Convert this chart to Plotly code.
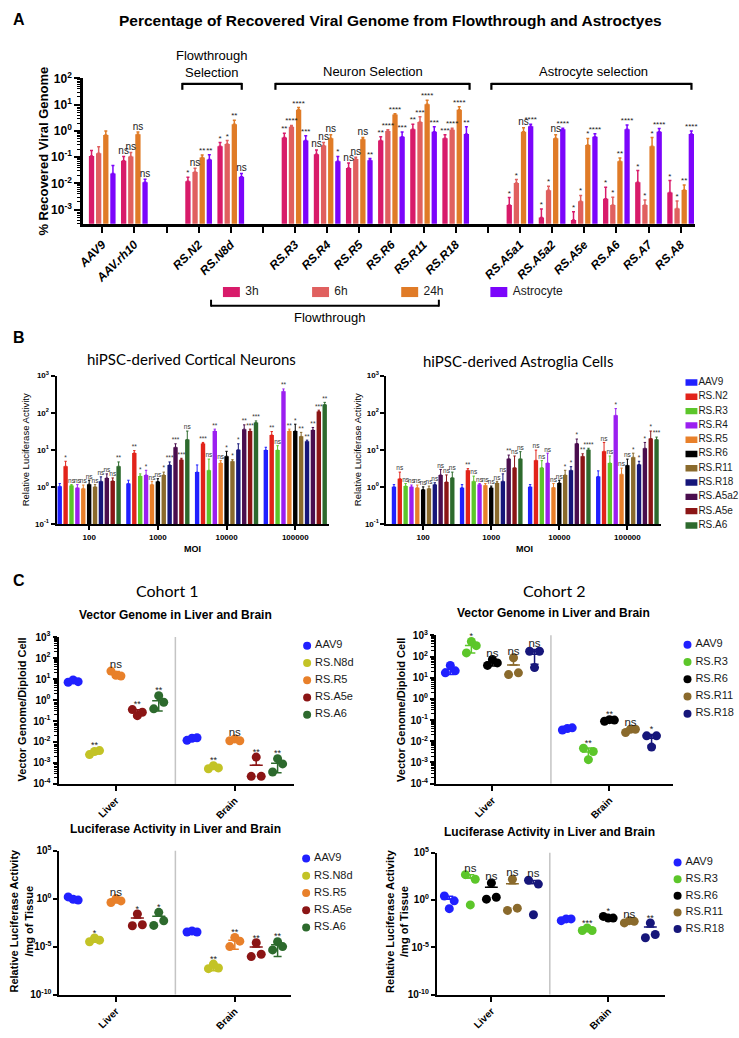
import numpy as np
import plotly.graph_objects as go

W, H = 739, 1038
def fx(p): return p / W
def fy(p): return 1 - p / H

ARIAL = "Liberation Sans, Arial, sans-serif"
CAL = "Lato, Carlito, sans-serif"

# ================= Panel A data =================
a_labels = ["AAV9", "AAV.rh10", "RS.N2", "RS.N8d", "RS.R3", "RS.R4", "RS.R5", "RS.R6",
            "RS.R11", "RS.R18", "RS.A5a1", "RS.A5a2", "RS.A5e", "RS.A6", "RS.A7", "RS.A8"]
a_slots = [0, 1, 3, 4, 6, 7, 8, 9, 10, 11, 13, 14, 15, 16, 17, 18]
a_series = ["3h", "6h", "24h", "Astrocyte"]
a_colors = ["#D81B6A", "#E0605F", "#E07B27", "#7B05FB"]
a_3h = [0.11, 0.074, 0.012, 0.26, 0.56, 0.13, 0.039, 0.43, 1.15, 0.53, 0.0015, 0.0005, 0.0004, 0.0026, 0.011, 0.0045]
a_3h_err = [0.07, 0.033, 0.0054, 0.10, 0.25, 0.06, 0.021, 0.17, 0.67, 0.18, 0.0014, 0.00057, 0.00043, 0.0046, 0.020, 0.0084]
a_6h = [0.14, 0.107, 0.027, 0.32, 1.45, 0.28, 0.085, 1.0, 2.2, 1.1, 0.0105, 0.0055, 0.0021, 0.0015, 0.0015, 0.0011]
a_6h_err = [0.11, 0.044, 0.011, 0.11, 0.17, 0.08, 0.015, 0.12, 1.27, 0.16, 0.0036, 0.0024, 0.0014, 0.0015, 0.00084, 0.00104]
a_24h = [0.70, 0.75, 0.098, 1.8, 6.5, 0.53, 0.48, 4.2, 10.4, 6.5, 0.94, 0.53, 0.29, 0.07, 0.26, 0.0056]
a_24h_err = [0.30, 0.16, 0.022, 0.77, 1.26, 0.18, 0.08, 0.37, 4.4, 1.8, 0.38, 0.18, 0.23, 0.023, 0.30, 0.0031]
a_ast = [0.024, 0.011, 0.081, 0.018, 0.43, 0.07, 0.076, 0.6, 0.94, 0.77, 1.5, 1.15, 0.6, 1.15, 0.94, 0.77]
a_ast_err = [0.024, 0.0035, 0.042, 0.006, 0.22, 0.037, 0.013, 0.31, 0.51, 0.68, 0.32, 0.11, 0.18, 0.55, 0.29, 0.23]
a_3h_sig = ["", "ns", "*", "*", "**", "ns", "ns", "**", "**", "***", "*", "*", "*", "*", "*", "*"]
a_6h_sig = ["", "ns", "ns", "*", "****", "ns", "ns", "****", "***", "****", "*", "*", "*", "*", "*", "*"]
a_24h_sig = ["", "ns", "**", "**", "****", "ns", "ns", "****", "****", "****", "ns", "ns", "*", "**", "*", "**"]
a_ast_sig = ["", "ns", "**", "ns", "***", "*", "**", "***", "***", "**", "****", "****", "****", "****", "****", "****"]
a_exps = [-3, -2, -1, 0, 1, 2]

# ================= Panel B data =================
b_moi = ["100", "1000", "10000", "100000"]
b_series = ["AAV9", "RS.N2", "RS.R3", "RS.R4", "RS.R5", "RS.R6", "RS.R11", "RS.R18", "RS.A5a2", "RS.A5e", "RS.A6"]
b_colors = ["#2020FF", "#E2231A", "#5CC62A", "#9B1FF0", "#E8802A", "#000000", "#8A6A2C", "#16167A", "#4A0E4E", "#8B1515", "#2D6A2D"]
# Cortical neurons: values and upper error bounds per series over MOI
bn_val = [[1.04, 1.23, 2.5, 9.8], [3.6, 8.2, 14.8, 25], [1.08, 1.96, 2.8, 9.8], [0.94, 2.1, 32, 380],
          [0.91, 1.15, 4.4, 32], [1.18, 1.4, 6.7, 32], [1.0, 2.1, 4.9, 23], [1.42, 3.9, 10, 17],
          [1.74, 11.7, 36, 34], [1.45, 5.4, 32, 107], [3.6, 19, 54, 166]]
bn_top = [[1.23, 1.51, 3.9, 11.7], [4.9, 9.5, 15.8, 31], [1.15, 2.24, 5.6, 12.9], [1.15, 2.8, 36, 437],
          [1.12, 1.41, 5.1, 36], [1.51, 1.66, 9.1, 49], [1.15, 2.5, 5.4, 29.5], [1.86, 4.7, 14.5, 18.2],
          [2.24, 14.5, 47, 40], [1.74, 5.9, 36, 117], [4.7, 32, 60, 190]]
bn_sig = [["", "", "", ""], ["*", "**", "***", "**"], ["ns", "*", "ns", "ns"], ["ns", "*", "**", "**"],
          ["ns", "ns", "ns", "**"], ["ns", "ns", "*", "*"], ["ns", "*", "*", "**"], ["ns", "***", "*", "**"],
          ["ns", "***", "**", "**"], ["ns", "***", "***", "***"], ["**", "ns", "***", "**"]]
# Astroglia cells
ba_val = [[1.0, 0.95, 1.0, 1.9], [1.66, 2.8, 5.2, 9.1], [1.05, 1.42, 3.3, 4.4], [1.0, 1.15, 4.4, 85],
          [0.95, 1.1, 0.96, 2.2], [0.85, 0.95, 1.28, 3.8], [0.9, 1.28, 2.1, 6.3], [1.15, 1.42, 2.8, 4.0],
          [2.1, 5.7, 14.8, 11], [1.36, 3.3, 6.7, 20], [1.77, 5.7, 10, 19]]
ba_top = [[1.15, 1.15, 1.15, 2.7], [2.5, 3.1, 9.8, 15.8], [1.23, 1.95, 5.1, 6.8], [1.12, 1.23, 8.1, 129],
          [1.12, 1.23, 1.23, 3.2], [1.0, 1.05, 1.51, 5.6], [1.05, 1.41, 2.8, 8.1], [1.29, 2.24, 3.5, 4.9],
          [2.95, 7.2, 19.5, 15.8], [2.1, 6.8, 7.8, 32], [2.5, 8.9, 11, 22]]
ba_sig = [["", "", "", ""], ["ns", "**", "ns", "ns"], ["ns", "ns", "ns", "ns"], ["ns", "ns", "ns", "*"],
          ["ns", "ns", "ns", "ns"], ["ns", "ns", "ns", "ns"], ["ns", "ns", "*", "*"], ["ns", "ns", "*", "*"],
          ["ns", "**", "*", "*"], ["ns", "ns", "**", "*"], ["ns", "ns", "****", "***"]]
b_exps = [-1, 0, 1, 2, 3]

# ================= Panel C data =================
tissues = ["Liver", "Brain"]
c1_strains = ["AAV9", "RS.N8d", "RS.R5", "RS.A5e", "RS.A6"]
c1_colors = ["#2020FF", "#C3C326", "#E8802A", "#8B1515", "#2D6A2D"]
c2_strains = ["AAV9", "RS.R3", "RS.R6", "RS.R11", "RS.R18"]
c2_colors = ["#2020FF", "#5CC62A", "#000000", "#8A6A2C", "#16167A"]
# vector genome / diploid cell, three animals each
c1_vg_liver = [[7.0, 9.0, 7.5], [0.0025, 0.0035, 0.0039], [24, 15, 14], [0.35, 0.18, 0.26], [0.38, 1.6, 0.78]]
c1_vg_brain = [[0.012, 0.015, 0.016], [0.00053, 0.00074, 0.00058], [0.0115, 0.014, 0.0115],
               [0.00023, 0.0019, 0.00023], [0.00037, 0.0016, 0.0009]]
c1_vg_sig = [["", "**", "ns", "**", "**"], ["", "**", "ns", "**", "**"]]
c2_vg_liver = [[17, 38, 21], [148, 510, 325], [38, 72, 50], [14, 87, 17], [178, 30, 178]]
c2_vg_brain = [[0.034, 0.04, 0.043], [0.0047, 0.00135, 0.0033], [0.088, 0.105, 0.1],
               [0.026, 0.037, 0.037], [0.018, 0.0053, 0.018]]
c2_vg_sig = [["", "*", "ns", "ns", "ns"], ["", "**", "**", "ns", "*"]]
# relative luciferase activity / mg tissue
c1_luc_liver = [[1.5, 0.87, 0.7], [3.2e-5, 8e-5, 4.7e-5], [0.39, 1.0, 0.58], [0.0015, 0.025, 0.0019], [0.0016, 0.037, 0.0049]]
c1_luc_brain = [[3.3e-4, 4.2e-4, 3.3e-4], [5e-8, 1.5e-7, 5.9e-8], [1e-5, 8.9e-5, 3.7e-5],
                [9e-7, 2.5e-5, 1.6e-6], [4.5e-6, 3.2e-5, 1e-5]]
c1_luc_sig = [["", "*", "ns", "*", "*"], ["", "**", "**", "**", "**"]]
c2_luc_liver = [[2.6, 0.12, 0.8], [470, 0.3, 155], [1.2, 63, 1.9], [0.078, 155, 0.135], [120, 0.027, 47]]
c2_luc_brain = [[0.0065, 0.0098, 0.0098], [5.9e-4, 1.1e-3, 5.9e-4], [0.018, 0.012, 0.012],
                [0.0037, 0.0065, 0.0055], [1e-4, 0.0037, 2.2e-4]]
c2_luc_sig = [["", "ns", "ns", "ns", "ns"], ["", "***", "*", "ns", "**"]]

fig = go.Figure()

def sup_labels(exps):
    return ["10<sup>%s</sup>" % (str(e) if e >= 0 else "-" + str(-e)) for e in exps]

def sig_sizes(sigs, ns, star):
    return [ns if s == "ns" else star for s in sigs]

# ---------- Panel A traces ----------
A_STEP, A_BW = 0.222, 0.165
a_vals = [a_3h, a_6h, a_24h, a_ast]
a_errs = [a_3h_err, a_6h_err, a_24h_err, a_ast_err]
a_sigs = [a_3h_sig, a_6h_sig, a_24h_sig, a_ast_sig]
for j, name in enumerate(a_series):
    xs = [s + (j - 1.5) * A_STEP for s in a_slots]
    fig.add_trace(go.Bar(x=xs, y=a_vals[j], width=A_BW, name=name, showlegend=False,
                         marker=dict(color=a_colors[j], line_width=0),
                         error_y=dict(type="data", symmetric=False, array=a_errs[j],
                                      arrayminus=[0] * len(xs), color=a_colors[j], thickness=1.5, width=1.5),
                         xaxis="x", yaxis="y"))
    tops = [v + e for v, e in zip(a_vals[j], a_errs[j])]
    fig.add_trace(go.Scatter(x=xs, y=tops, mode="text", text=a_sigs[j], textposition="top center",
                             textfont=dict(family=ARIAL, color="#1a1a1a", size=sig_sizes(a_sigs[j], 10, 8)),
                             showlegend=False, hoverinfo="skip", cliponaxis=False, xaxis="x", yaxis="y"))

# A legend (custom row)
fig.add_trace(go.Bar(y=[0] * 4, x=[0.19] * 4, base=[i + 0.2 for i in range(4)], orientation="h", width=1.0,
                     marker=dict(color=a_colors, line_width=0), showlegend=False, hoverinfo="skip",
                     xaxis="x5", yaxis="y5"))
fig.add_trace(go.Scatter(x=[i + 0.45 for i in range(4)], y=[0] * 4, mode="text", text=a_series,
                         textposition="middle right", textfont=dict(family=ARIAL, size=12, color="#1a1a1a"),
                         showlegend=False, hoverinfo="skip", cliponaxis=False, xaxis="x5", yaxis="y5"))

# ---------- Panel B traces ----------
B_STEP, B_BW = 0.0857, 0.064
for panel, (vals, tops_, sigs, xa, ya) in enumerate([(bn_val, bn_top, bn_sig, "x2", "y2"),
                                                    (ba_val, ba_top, ba_sig, "x3", "y3")]):
    for j, name in enumerate(b_series):
        xs = [i + (j - 5) * B_STEP for i in range(len(b_moi))]
        err = [t - v for t, v in zip(tops_[j], vals[j])]
        fig.add_trace(go.Bar(x=xs, y=vals[j], width=B_BW, showlegend=False, name=name,
                             marker=dict(color=b_colors[j], line_width=0),
                             error_y=dict(type="data", symmetric=False, array=err, arrayminus=[0] * 4,
                                          color=b_colors[j], thickness=1, width=1.2),
                             xaxis=xa, yaxis=ya))
        fig.add_trace(go.Scatter(x=xs, y=tops_[j], mode="text", text=sigs[j], textposition="top center",
                                 textfont=dict(family=ARIAL, color="#333", size=sig_sizes(sigs[j], 6.5, 6.5)),
                                 showlegend=False, hoverinfo="skip", cliponaxis=False, xaxis=xa, yaxis=ya))

# B legend (custom column)
nb = len(b_series)
fig.add_trace(go.Bar(y=list(range(nb)), x=[12] * nb, base=[5] * nb, orientation="h", width=0.45,
                     marker=dict(color=b_colors, line_width=0), showlegend=False, hoverinfo="skip",
                     xaxis="x4", yaxis="y4"))
fig.add_trace(go.Scatter(x=[18] * nb, y=list(range(nb)), mode="text", text=b_series,
                         textposition="middle right", textfont=dict(family=ARIAL, size=10, color="#1a1a1a"),
                         showlegend=False, hoverinfo="skip", cliponaxis=False, xaxis="x4", yaxis="y4"))

# ---------- Panel C traces ----------
C_DX, C_JIT, C_HALF = 0.18, [-0.042, 0.0, 0.042], 0.055
def add_scatter_panel(liver, brain, sigs, strains, colors, xa, ya, ns_size=11.5, star_size=9):
    for j, name in enumerate(strains):
        px, py, lx, ly, mx, mm, sdp, sdm, tx, ty, tt = [], [], [], [], [], [], [], [], [], [], []
        for g, data in enumerate([liver, brain]):
            reps = data[j]
            c = g + (j - 2) * C_DX
            for k, v in enumerate(reps):
                px.append(c + C_JIT[k]); py.append(v)
            m = float(np.mean(reps)); sd = float(np.std(reps, ddof=1))
            lx += [c - C_HALF, c + C_HALF, None]; ly += [m, m, None]
            mx.append(c); mm.append(m); sdp.append(sd); sdm.append(sd if m - sd > 0 else 0)
            tx.append(c); ty.append(max(max(reps), m + sd)); tt.append(sigs[g][j])
        fig.add_trace(go.Scatter(x=lx, y=ly, mode="lines", line=dict(color=colors[j], width=1.5),
                                 showlegend=False, hoverinfo="skip", xaxis=xa, yaxis=ya))
        fig.add_trace(go.Scatter(x=mx, y=mm, mode="markers", marker=dict(size=1, color="rgba(0,0,0,0)"),
                                 error_y=dict(type="data", symmetric=False, array=sdp, arrayminus=sdm,
                                              color=colors[j], thickness=1.5, width=4),
                                 showlegend=False, hoverinfo="skip", xaxis=xa, yaxis=ya))
        fig.add_trace(go.Scatter(x=px, y=py, mode="markers", name=name,
                                 marker=dict(size=9, color=colors[j]), showlegend=False, xaxis=xa, yaxis=ya))
        fig.add_trace(go.Scatter(x=tx, y=ty, mode="text", text=tt, textposition="top center",
                                 textfont=dict(family=ARIAL, color="#1a1a1a", size=sig_sizes(tt, ns_size, star_size)),
                                 showlegend=False, hoverinfo="skip", cliponaxis=False, xaxis=xa, yaxis=ya))

add_scatter_panel(c1_vg_liver, c1_vg_brain, c1_vg_sig, c1_strains, c1_colors, "x6", "y6")
add_scatter_panel(c2_vg_liver, c2_vg_brain, c2_vg_sig, c2_strains, c2_colors, "x7", "y7")
add_scatter_panel(c1_luc_liver, c1_luc_brain, c1_luc_sig, c1_strains, c1_colors, "x8", "y8")
add_scatter_panel(c2_luc_liver, c2_luc_brain, c2_luc_sig, c2_strains, c2_colors, "x9", "y9")

# C legends
for strains, colors, xa, ya in [(c1_strains, c1_colors, "x10", "y10"), (c2_strains, c2_colors, "x11", "y11"),
                                (c1_strains, c1_colors, "x12", "y12"), (c2_strains, c2_colors, "x13", "y13")]:
    n = len(strains)
    fig.add_trace(go.Scatter(x=[8] * n, y=list(range(n)), mode="markers", marker=dict(size=8, color=colors),
                             showlegend=False, hoverinfo="skip", xaxis=xa, yaxis=ya))
    fig.add_trace(go.Scatter(x=[16] * n, y=list(range(n)), mode="text", text=strains, textposition="middle right",
                             textfont=dict(family=ARIAL, size=11, color="#1a1a1a"),
                             showlegend=False, hoverinfo="skip", cliponaxis=False, xaxis=xa, yaxis=ya))

# ================= Layout =================
def xax(dom, rng, tickvals, ticktext, **kw):
    d = dict(domain=[fx(dom[0]), fx(dom[1])], range=rng, tickvals=tickvals, ticktext=ticktext,
             showline=True, linecolor="black", showgrid=False, zeroline=False, ticks="outside",
             tickcolor="black", fixedrange=True)
    d.update(kw)
    return d

def yax(dom, rng, exps, **kw):
    d = dict(type="log", domain=[fy(dom[1]), fy(dom[0])], range=rng, tickvals=[10.0 ** e for e in exps],
             ticktext=sup_labels(exps), showline=True, linecolor="black", showgrid=False, zeroline=False,
             ticks="outside", tickcolor="black", fixedrange=True)
    d.update(kw)
    return d

def hidden(dom_x, dom_y, rx, ry):
    return (dict(domain=[fx(dom_x[0]), fx(dom_x[1])], range=rx, visible=False, fixedrange=True),
            dict(domain=[fy(dom_y[1]), fy(dom_y[0])], range=ry, visible=False, fixedrange=True))

bold = dict(family=ARIAL, color="black", weight="bold")
a_ticktext = [""] * 19
for lab, s in zip(a_labels, a_slots):
    a_ticktext[s] = lab

layout = dict(
    width=W, height=H, margin=dict(l=0, r=0, t=0, b=0), paper_bgcolor="white", plot_bgcolor="white",
    barmode="overlay", showlegend=False, font=dict(family=ARIAL, color="black"),
    xaxis=xax((77, 695), [-0.59, 18.46], list(range(19)), a_ticktext, anchor="y", linewidth=3,
              ticklen=6, tickwidth=2, tickangle=-45,
              tickfont=dict(family=ARIAL, size=12, color="black", weight="bold", style="italic")),
    yaxis=yax((70.5, 218), [-3.54, 2.0], a_exps, anchor="x", linewidth=3, ticklen=6, tickwidth=2,
              tickfont=dict(size=12, **bold),
              minor=dict(ticks="outside", ticklen=3, tickwidth=1.2, tickcolor="black", dtick="D1", showgrid=False)),
    xaxis2=xax((50, 325), [-0.475, 3.49], [0, 1, 2, 3], b_moi, anchor="y2", linewidth=2, ticklen=4, tickwidth=2,
               tickfont=dict(size=8, **bold)),
    yaxis2=yax((372, 522.5), [-1, 3], b_exps, anchor="x2", linewidth=2, ticklen=4, tickwidth=1.5,
               tickfont=dict(size=8, **bold)),
    xaxis3=xax((383, 660), [-0.54, 3.49], [0, 1, 2, 3], b_moi, anchor="y3", linewidth=2, ticklen=4, tickwidth=2,
               tickfont=dict(size=8, **bold)),
    yaxis3=yax((372, 522.5), [-1, 3], b_exps, anchor="x3", linewidth=2, ticklen=4, tickwidth=1.5,
               tickfont=dict(size=8, **bold)),
    xaxis6=xax((52, 290), [-0.483, 1.5], [0, 1], tissues, anchor="y6", linewidth=2, ticklen=5, tickwidth=1.5,
               tickangle=-45, tickfont=dict(size=10, **bold)),
    yaxis6=yax((637.3, 786.3), [-4, 3], list(range(-4, 4)), anchor="x6", linewidth=2, ticklen=4, tickwidth=1.5,
               tickfont=dict(size=10, **bold),
               minor=dict(ticks="outside", ticklen=3, tickwidth=1, tickcolor="black", dtick="D1", showgrid=False)),
    xaxis7=xax((433, 672), [-0.483, 1.54], [0, 1], tissues, anchor="y7", linewidth=2, ticklen=5, tickwidth=1.5,
               tickangle=-45, tickfont=dict(size=10, **bold)),
    yaxis7=yax((635.5, 786), [-4, 3], list(range(-4, 4)), anchor="x7", linewidth=2, ticklen=4, tickwidth=1.5,
               tickfont=dict(size=10, **bold),
               minor=dict(ticks="outside", ticklen=3, tickwidth=1, tickcolor="black", dtick="D1", showgrid=False)),
    xaxis8=xax((53, 287), [-0.475, 1.475], [0, 1], tissues, anchor="y8", linewidth=2, ticklen=5, tickwidth=1.5,
               tickangle=-45, tickfont=dict(size=10, **bold)),
    yaxis8=yax((854, 1000), [-10, 5], [-10, -5, 0, 5], anchor="x8", linewidth=2, ticklen=4, tickwidth=1.5,
               tickfont=dict(size=10, **bold)),
    xaxis9=xax((434, 664), [-0.466, 1.483], [0, 1], tissues, anchor="y9", linewidth=2, ticklen=5, tickwidth=1.5,
               tickangle=-45, tickfont=dict(size=10, **bold)),
    yaxis9=yax((856, 1000), [-10, 5], [-10, -5, 0, 5], anchor="x9", linewidth=2, ticklen=4, tickwidth=1.5,
               tickfont=dict(size=10, **bold)),
)
layout["xaxis5"], layout["yaxis5"] = hidden((200, 560), (282, 292.5), [0, 4], [-0.5, 0.5])
layout["xaxis4"], layout["yaxis4"] = hidden((680, 739), (371.75, 531.25), [0, 59], [10.5, -0.5])
def leg_axes(x0, first_y, spacing, n=5):
    x1 = min(x0 + 52, W)
    return hidden((x0 - 8, x1), (first_y - spacing / 2, first_y - spacing / 2 + n * spacing),
                  [0, x1 - x0 + 8], [n - 0.5, -0.5])
layout["xaxis10"], layout["yaxis10"] = leg_axes(303, 646, 17.5)
layout["xaxis11"], layout["yaxis11"] = leg_axes(687, 645, 17.5)
layout["xaxis12"], layout["yaxis12"] = leg_axes(302, 862, 17.5)
layout["xaxis13"], layout["yaxis13"] = leg_axes(677, 866, 16.9)
for k in ["yaxis4", "yaxis5"] + ["yaxis%d" % i for i in range(10, 14)]:
    layout[k]["anchor"] = "x" + k[5:]
for k in ["xaxis4", "xaxis5"] + ["xaxis%d" % i for i in range(10, 14)]:
    layout[k]["anchor"] = "y" + k[5:]
fig.update_layout(**layout)

# ---------- annotations ----------
def ann(text, x, y, size, bold_=False, angle=0, family=ARIAL, xanchor="center"):
    fig.add_annotation(text=text, x=fx(x), y=fy(y), xref="paper", yref="paper", showarrow=False,
                       textangle=angle, xanchor=xanchor, yanchor="middle",
                       font=dict(family=family, size=size, color="black", weight="bold" if bold_ else "normal"))

ann("A", 4, 11, 16, True, xanchor="left")
ann("Percentage of Recovered Viral Genome from Flowthrough and Astroctyes", 387, 12, 15.5, True)
ann("% Recovered Viral Genome", 37, 144, 13, True, angle=-90)
ann("Flowthrough<br>Selection", 207, 56, 13)
ann("Neuron Selection", 369, 63, 13)
ann("Astrocyte selection", 592, 63, 13)
ann("Flowthrough", 326, 313, 13)
ann("B", 4, 333, 16, True, xanchor="left")
ann("hiPSC-derived Cortical Neurons", 186, 355, 15, family=CAL)
ann("hiPSC-derived Astroglia Cells", 516, 357, 15, family=CAL)
ann("Relative Luciferase Activity", 19, 447, 9.5, angle=-90)
ann("Relative Luciferase Activity", 354, 447, 9.5, angle=-90)
ann("MOI", 187, 548, 9, True)
ann("MOI", 522, 548, 9, True)
ann("C", 4, 580, 16, True, xanchor="left")
ann("Cohort 1", 162, 590, 16, family=CAL)
ann("Cohort 2", 553, 590, 16, family=CAL)
ann("Vector Genome in Liver and Brain", 170, 615, 12, True)
ann("Vector Genome in Liver and Brain", 552, 613, 12, True)
ann("Vector Genome/Diploid Cell", 15, 711, 11, True, angle=-90)
ann("Vector Genome/Diploid Cell", 397, 711, 11, True, angle=-90)
ann("Luciferase Activity in Liver and Brain", 170, 832, 12, True)
ann("Luciferase Activity in Liver and Brain", 548, 835, 12, True)
ann("Relative Luciferase Activity<br>/mg of Tissue", 14, 925, 11, True, angle=-90)
ann("Relative Luciferase Activity<br>/mg of Tissue", 393, 925, 11, True, angle=-90)

# ---------- shapes: brackets and dividers ----------
def pline(x0, y0, x1, y1, w=2, color="black"):
    fig.add_shape(type="line", xref="paper", yref="paper", x0=fx(x0), y0=fy(y0), x1=fx(x1), y1=fy(y1),
                  line=dict(color=color, width=w))

for (x0, x1) in [(177, 237), (271, 467), (489, 691)]:
    pline(x0, 76, x1, 76, 2.2)
    pline(x0, 75, x0, 82, 2.2)
    pline(x1, 75, x1, 82, 2.2)
pline(206, 301, 436, 301, 2)
pline(206, 295, 206, 302, 2)
pline(436, 295, 436, 302, 2)

for xa, ya in [("x6", "y6"), ("x7", "y7"), ("x8", "y8"), ("x9", "y9")]:
    fig.add_shape(type="line", xref=xa, yref=ya + " domain", x0=0.5, x1=0.5, y0=0, y1=1,
                  line=dict(color="#C4C4C4", width=1.5))

fig.write_html("out.html", config={"displayModeBar": False},
               post_script="document.body.style.margin='0';")
